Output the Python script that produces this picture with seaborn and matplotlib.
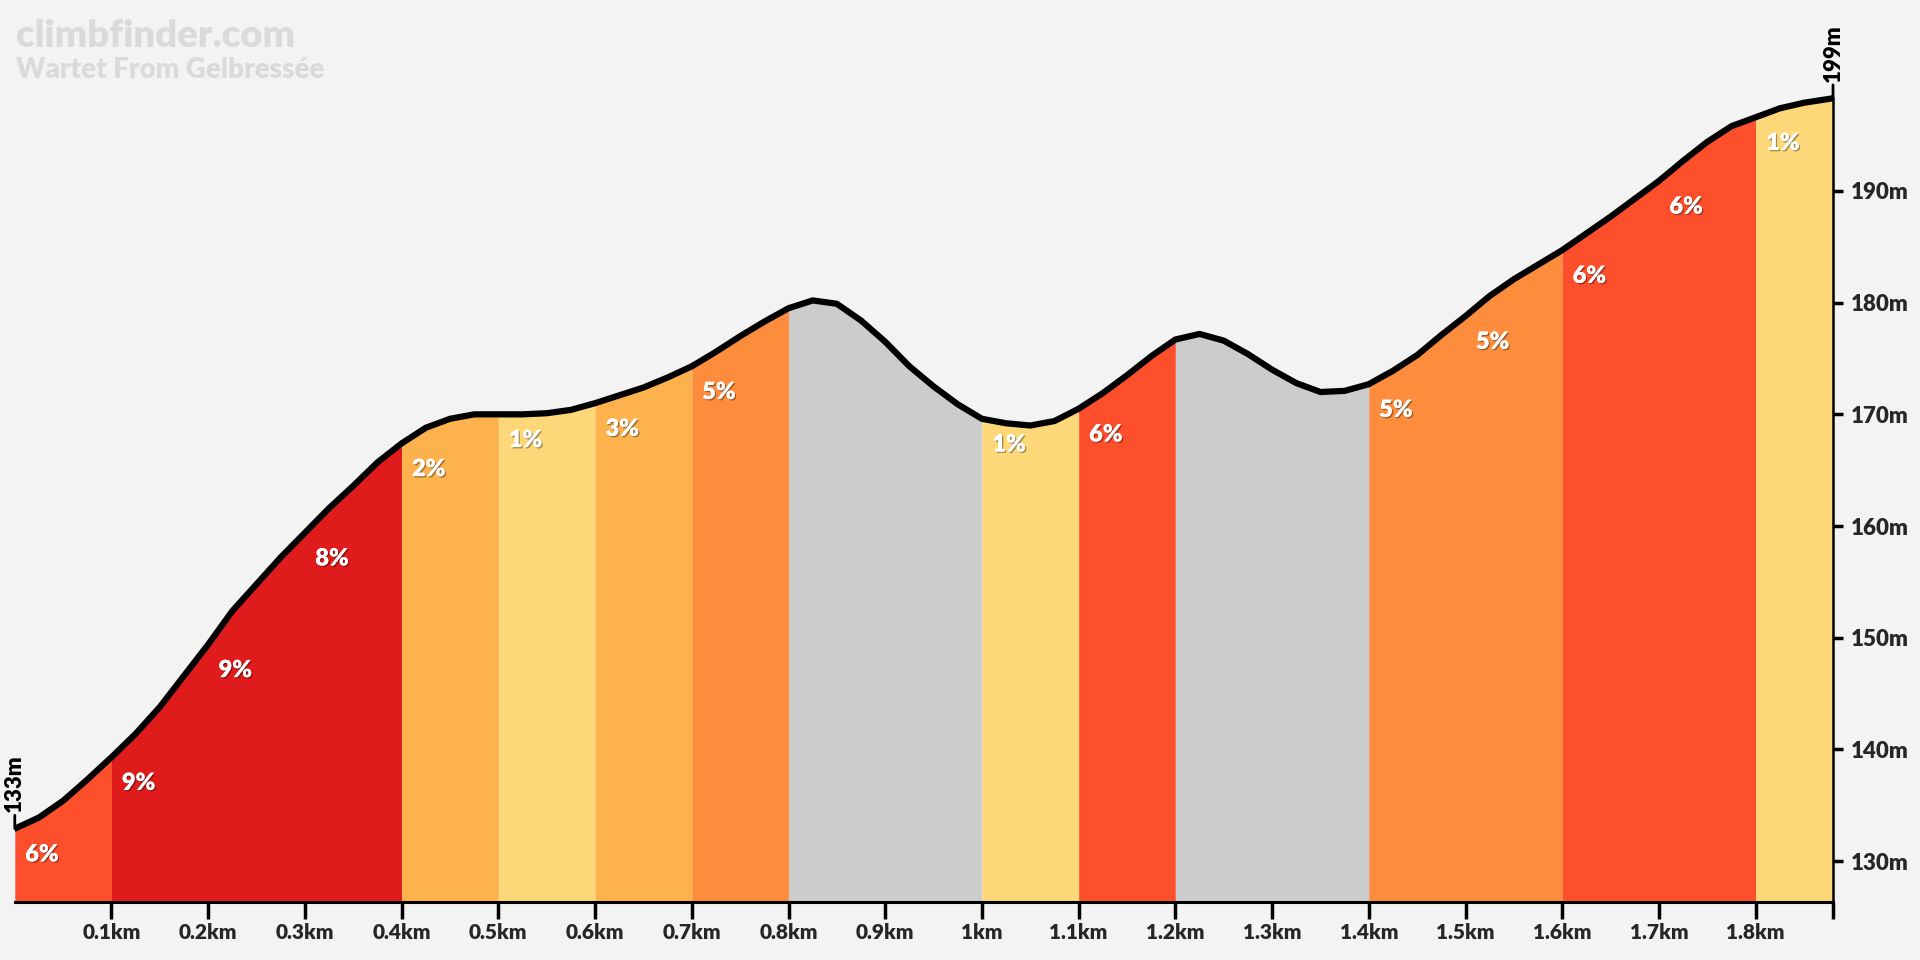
import numpy as np
import pandas as pd
import matplotlib
matplotlib.use("Agg")
import matplotlib.pyplot as plt
import matplotlib.patheffects as pe
import seaborn as sns

# ====================================
# DATA
# ====================================

distance_km = [
    0.000, 0.025, 0.050, 0.075, 0.100, 0.125, 0.150, 0.175, 0.200, 0.225,
    0.250, 0.275, 0.300, 0.325, 0.350, 0.375, 0.400, 0.425, 0.450, 0.475,
    0.500, 0.525, 0.550, 0.575, 0.600, 0.625, 0.650, 0.675, 0.700, 0.725,
    0.750, 0.775, 0.800, 0.825, 0.850, 0.875, 0.900, 0.925, 0.950, 0.975,
    1.000, 1.025, 1.050, 1.075, 1.100, 1.125, 1.150, 1.175, 1.200, 1.225,
    1.250, 1.275, 1.300, 1.325, 1.350, 1.375, 1.400, 1.425, 1.450, 1.475,
    1.500, 1.525, 1.550, 1.575, 1.600, 1.625, 1.650, 1.675, 1.700, 1.725,
    1.750, 1.775, 1.800, 1.825, 1.850, 1.880,
]

elevation_m = [
    132.9, 133.9, 135.4, 137.3, 139.3, 141.4, 143.8, 146.6, 149.4, 152.4,
    154.8, 157.2, 159.4, 161.6, 163.6, 165.7, 167.4, 168.8, 169.6, 170.0,
    170.0, 170.0, 170.1, 170.4, 171.0, 171.7, 172.4, 173.3, 174.3, 175.6,
    177.0, 178.3, 179.5, 180.2, 179.9, 178.4, 176.5, 174.3, 172.5, 170.9,
    169.6, 169.2, 169.0, 169.4, 170.5, 171.9, 173.5, 175.2, 176.7, 177.2,
    176.6, 175.4, 174.0, 172.8, 172.0, 172.1, 172.7, 173.9, 175.3, 177.1,
    178.8, 180.6, 182.1, 183.4, 184.7, 186.2, 187.7, 189.3, 190.9, 192.7,
    194.4, 195.8, 196.6, 197.4, 197.9, 198.3,
]

seg_start = [0.0, 0.1, 0.2, 0.3, 0.4, 0.5, 0.6, 0.7, 0.8, 1.0, 1.1, 1.2, 1.4, 1.5, 1.6, 1.7, 1.8]
seg_end = [0.1, 0.2, 0.3, 0.4, 0.5, 0.6, 0.7, 0.8, 1.0, 1.1, 1.2, 1.4, 1.5, 1.6, 1.7, 1.8, 1.88]
seg_label = ["6%", "9%", "9%", "8%", "2%", "1%", "3%", "5%", "", "1%", "6%", "", "5%", "5%", "6%", "6%", "1%"]
seg_color = [
    "#fe4f2c", "#e01b1c", "#e01b1c", "#e01b1c", "#fdb24d", "#fed878",
    "#fdb24d", "#fd8c3c", "#cccccc", "#fed878", "#fe4f2c", "#cccccc",
    "#fd8c3c", "#fd8c3c", "#fe4f2c", "#fe4f2c", "#fed878",
]

x_ticks = [0.1, 0.2, 0.3, 0.4, 0.5, 0.6, 0.7, 0.8, 0.9, 1.0, 1.1, 1.2, 1.3, 1.4, 1.5, 1.6, 1.7, 1.8]
y_ticks = [130, 140, 150, 160, 170, 180, 190]

start_label = "133m"
end_label = "199m"
title = "climbfinder.com"
subtitle = "Wartet From Gelbressée"

profile = pd.DataFrame({"km": distance_km, "elev": elevation_m})

# ====================================
# STYLE
# ====================================

BG = "#f3f3f3"
sns.set_style("white", {"axes.facecolor": BG, "figure.facecolor": BG})
plt.rcParams["font.family"] = ["Lato", "DejaVu Sans"]

fig = plt.figure(figsize=(19.2, 9.6), dpi=100)
ax = fig.add_axes([0.0077, 0.06, 0.947, 0.94])

Y_MIN, Y_MAX = 126.3, 207.1

# ====================================
# COLOURED SEGMENTS
# ====================================

km = profile["km"].to_numpy()
el = profile["elev"].to_numpy()

# merge neighbouring segments of the same colour so no seams show
blocks = []
for s, e, c in zip(seg_start, seg_end, seg_color):
    if blocks and blocks[-1][2] == c:
        blocks[-1][1] = e
    else:
        blocks.append([s, e, c])

for s, e, c in blocks:
    mask = (km >= s - 1e-9) & (km <= e + 1e-9)
    ax.fill_between(km[mask], Y_MIN, el[mask], color=c, linewidth=0, zorder=1)

for s, lab in zip(seg_start, seg_label):
    if not lab:
        continue
    y0 = el[np.argmin(np.abs(km - s))]
    ax.text(
        s + 0.028, y0 - 2.3, lab,
        color="white", fontsize=17, fontweight="heavy",
        ha="center", va="center", zorder=4,
        path_effects=[pe.withSimplePatchShadow(offset=(1, -1), shadow_rgbFace="black", alpha=0.35), pe.Normal()],
    )

sns.lineplot(
    data=profile, x="km", y="elev", ax=ax,
    color="black", linewidth=4.5, zorder=3,
)
ax.lines[-1].set_solid_capstyle("round")

# ====================================
# START / END MARKERS
# ====================================

for xv, yv, lab in [(km[0], el[0], start_label), (km[-1], el[-1], end_label)]:
    ax.annotate(
        lab, xy=(xv, yv), xytext=(0, 12), textcoords="offset points",
        rotation=90, ha="center", va="bottom",
        fontsize=16, fontweight="heavy", color="black",
        arrowprops=dict(arrowstyle="-", color="black", lw=2, shrinkA=0, shrinkB=0),
        annotation_clip=False, zorder=5,
    )

# ====================================
# AXES
# ====================================

ax.set_xlim(0, km[-1])
ax.set_ylim(Y_MIN, Y_MAX)
ax.set_xlabel("")
ax.set_ylabel("")

ax.set_xticks(x_ticks + [km[-1]])
ax.set_xticklabels([f"{v:g}km" for v in x_ticks] + [""])
ax.yaxis.tick_right()
ax.set_yticks(y_ticks)
ax.set_yticklabels([f"{v}m" for v in y_ticks])

ax.tick_params(axis="x", length=12, width=2.5, color="black", pad=3,
               labelsize=15, direction="out", bottom=True)
ax.tick_params(axis="y", length=7, width=2.5, color="black", pad=6,
               labelsize=16, direction="out", right=True, left=False)
for lab in ax.get_xticklabels() + ax.get_yticklabels():
    lab.set_fontweight("heavy")

for side in ["top", "left"]:
    ax.spines[side].set_visible(False)
ax.spines["bottom"].set_linewidth(2.2)
ax.spines["right"].set_linewidth(1.8)
ax.spines["right"].set_bounds(Y_MIN, el[-1])
ax.spines["bottom"].set_color("black")
ax.spines["right"].set_color("black")
ax.spines["bottom"].set_zorder(6)
ax.spines["right"].set_zorder(6)

# ====================================
# TITLE
# ====================================

fig.text(0.0085, 0.962, title, color="#dadada", fontsize=27.5, fontweight="heavy",
         ha="left", va="center")
fig.text(0.0085, 0.927, subtitle, color="#dadada", fontsize=20, fontweight="heavy",
         ha="left", va="center")

fig.savefig("out.png", dpi=100, facecolor=BG)
plt.close()
